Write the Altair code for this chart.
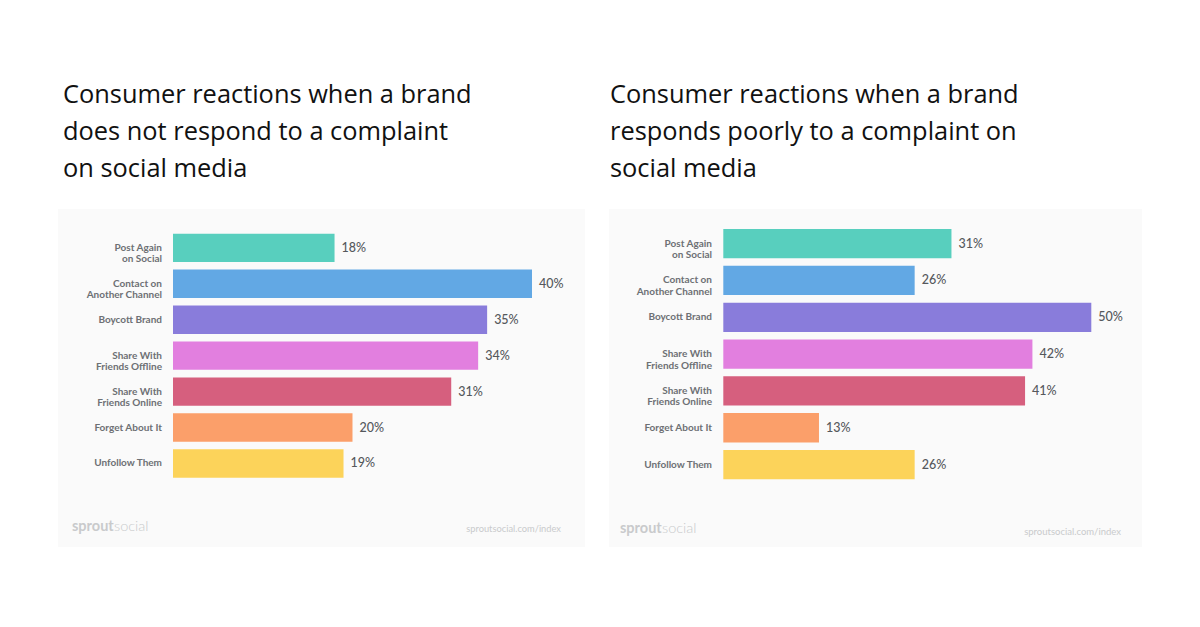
import altair as alt
import pandas as pd

# ---------------- data ----------------
categories = [
    "Post Again\non Social",
    "Contact on\nAnother Channel",
    "Boycott Brand",
    "Share With\nFriends Offline",
    "Share With\nFriends Online",
    "Forget About It",
    "Unfollow Them",
]
no_response = [18, 40, 35, 34, 31, 20, 19]
poor_response = [31, 26, 50, 42, 41, 13, 26]
bar_colors = ["#58cfbe", "#62a8e4", "#897cdb", "#e27fdf", "#d65f7e", "#fb9f6a", "#fcd35a"]

title_left = "Consumer reactions when a brand\ndoes not respond to a complaint\non social media"
title_right = "Consumer reactions when a brand\nresponds poorly to a complaint on\nsocial media"
logo_bold = "sprout"
logo_light = "social"
source_url = "sproutsocial.com/index"

BOX_FILL = "#fafafa"
LABEL_COLOR = "#6d7074"
VALUE_COLOR = "#55585c"
FOOT_COLOR = "#c9cacc"

one = pd.DataFrame({"a": [0]})


def panel(values, xmax, xrange, yrange, pad_inner, label_x):
    df = pd.DataFrame({
        "cat": categories,
        "value": values,
        "pct": [f"{v}%" for v in values],
    })
    y = alt.Y(
        "cat:N",
        sort=categories,
        scale=alt.Scale(domain=categories, range=yrange,
                        paddingInner=pad_inner, paddingOuter=pad_inner / 2),
        axis=None,
    )
    x = alt.X("value:Q", scale=alt.Scale(domain=[0, xmax], range=xrange, nice=False, zero=True), axis=None)
    bars = alt.Chart(df).mark_bar().encode(
        x=x, y=y,
        color=alt.Color("cat:N", scale=alt.Scale(domain=categories, range=bar_colors), legend=None),
    )
    vals = alt.Chart(df).mark_text(
        align="left", baseline="middle", dx=7, font="Lato", fontSize=12.5,
        fontWeight=500, color=VALUE_COLOR,
    ).encode(x=x, y=y, text="pct:N")
    labels = alt.Chart(df).mark_text(
        align="right", baseline="middle", lineBreak="\n", lineHeight=11.5,
        font="Lato", fontWeight="bold", fontSize=10, color=LABEL_COLOR,
    ).encode(x=alt.value(label_x), y=y, text="cat:N")
    return alt.layer(bars, vals, labels)


def box(x0, x1, y0, y1):
    return alt.Chart(one).mark_rect(color=BOX_FILL).encode(
        x=alt.value(x0), x2=alt.value(x1), y=alt.value(y0), y2=alt.value(y1)
    )


def title(txt, x):
    return alt.Chart(one).mark_text(
        align="left", baseline="alphabetic", lineBreak="\n", lineHeight=37,
        font="Open Sans", fontSize=25.4, color="#111111",
    ).encode(x=alt.value(x), y=alt.value(103), text=alt.value(txt))


def footer(x_logo, y_logo, x_url, y_url, url_size):
    b = alt.Chart(one).mark_text(
        align="left", baseline="alphabetic", font="Lato", fontWeight="bold",
        fontSize=14.5, color=FOOT_COLOR,
    ).encode(x=alt.value(x_logo), y=alt.value(y_logo), text=alt.value(logo_bold))
    l = alt.Chart(one).mark_text(
        align="left", baseline="alphabetic", font="Lato", fontWeight=300,
        fontSize=14.5, color=FOOT_COLOR,
    ).encode(x=alt.value(x_logo + 42), y=alt.value(y_logo), text=alt.value(logo_light))
    u = alt.Chart(one).mark_text(
        align="right", baseline="alphabetic", font="Lato",
        fontSize=url_size, color=FOOT_COLOR,
    ).encode(x=alt.value(x_url), y=alt.value(y_url), text=alt.value(source_url))
    return alt.layer(b, l, u)


left = panel(no_response, 40, [173, 532], [229.9, 481.4], 0.21, 162)
right = panel(poor_response, 50, [723.3, 1091.3], [225.2, 483.0], 0.205, 712)

chart = alt.layer(
    box(58, 585, 209, 547),
    box(609, 1142, 209, 547),
    title(title_left, 63),
    title(title_right, 610),
    footer(72, 531, 561, 532, 9.3),
    footer(620, 533, 1121, 535, 9.5),
    left,
    right,
).resolve_scale(
    x="independent", y="independent", color="independent"
).properties(
    width=1200, height=627, padding=0,
    autosize=alt.AutoSizeParams(type="none"),
    background="white",
).configure_view(stroke=None)

chart.save("out.html", embed_options={"renderer": "svg", "actions": False})
